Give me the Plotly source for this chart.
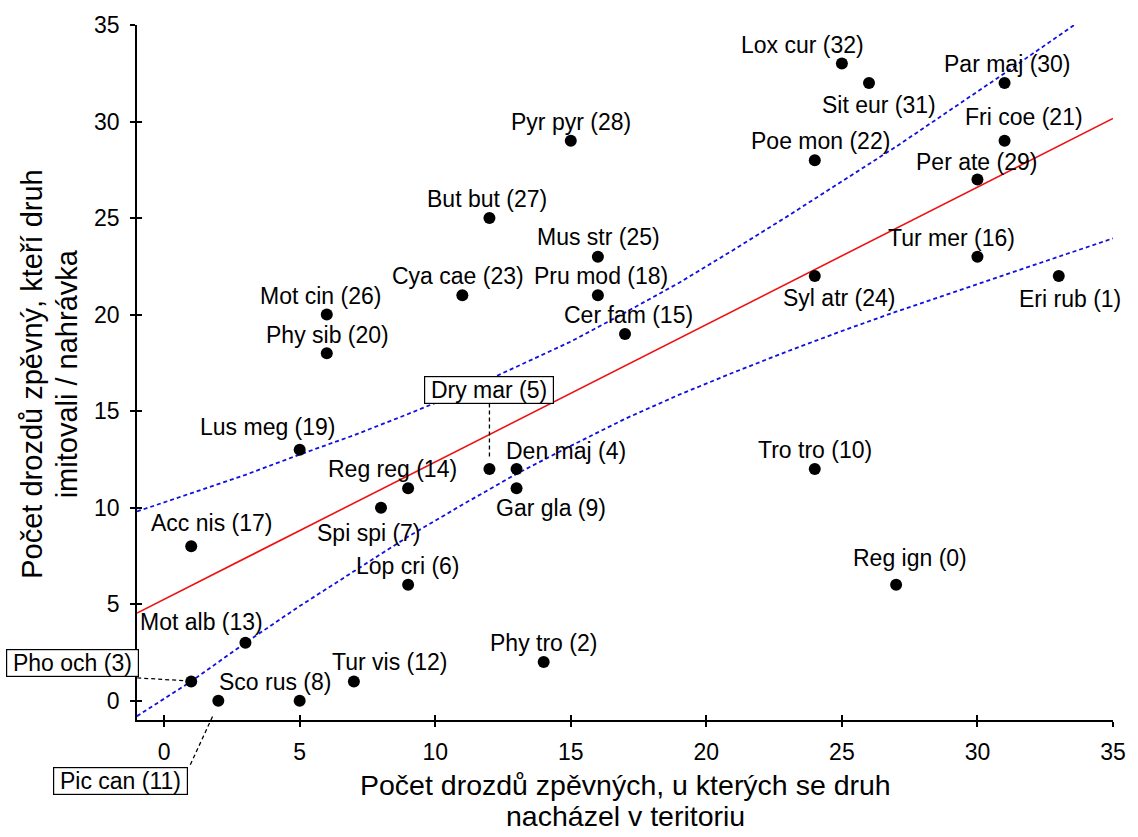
import plotly.graph_objects as go

# ---------------- data ----------------
labels = ["Reg ign (0)", "Eri rub (1)", "Phy tro (2)", "Pho och (3)", "Den maj (4)",
          "Dry mar (5)", "Lop cri (6)", "Spi spi (7)", "Sco rus (8)", "Gar gla (9)",
          "Tro tro (10)", "Pic can (11)", "Tur vis (12)", "Mot alb (13)", "Reg reg (14)",
          "Cer fam (15)", "Tur mer (16)", "Acc nis (17)", "Pru mod (18)", "Lus meg (19)",
          "Phy sib (20)", "Fri coe (21)", "Poe mon (22)", "Cya cae (23)", "Syl atr (24)",
          "Mus str (25)", "Mot cin (26)", "But but (27)", "Pyr pyr (28)", "Per ate (29)",
          "Par maj (30)", "Sit eur (31)", "Lox cur (32)"]
x_vals = [27, 33, 14, 1, 13, 12, 9, 8, 5, 13, 24, 2, 7, 3, 9, 17, 30, 1, 16, 5,
          6, 31, 24, 11, 24, 16, 6, 12, 15, 30, 31, 26, 25]
y_vals = [6, 22, 2, 1, 12, 12, 6, 10, 0, 11, 12, 0, 1, 3, 11, 19, 23, 8, 21, 13,
          18, 29, 28, 21, 22, 23, 20, 25, 29, 27, 32, 32, 33]

# regression line (end points)
reg_x = [-1, 35]
reg_y = [4.54, 30.16]

# dashed band curves
band_x = [-1, 1, 3, 5, 7, 9, 11, 13, 15, 17, 19, 21, 23, 25, 27, 29, 31, 33, 35]
band_upper = [9.8, 10.75, 11.7, 12.75, 13.75, 14.85, 16.0, 17.3, 18.6, 20.1, 21.65,
              23.35, 25.1, 26.9, 28.7, 30.6, 32.5, 34.45, 36.4]
band_lower = [-0.8, 1.0, 3.0, 4.9, 6.7, 8.5, 10.15, 11.75, 13.2, 14.6, 15.85, 17.0,
              18.1, 19.15, 20.15, 21.1, 22.05, 23.0, 23.95]

x_ticks = [0, 5, 10, 15, 20, 25, 30, 35]
y_ticks = [0, 5, 10, 15, 20, 25, 30, 35]

x_title = ["Počet drozdů zpěvných, u kterých se druh", "nacházel v teritoriu"]
y_title = ["Počet drozdů zpěvný, kteří druh", "imitovali / nahrávka"]

# ---------------- layout / style ----------------
X_RANGE = [-1, 35]
Y_RANGE = [-1, 35]
FONT = "Liberation Sans, Arial, sans-serif"
LBL_SIZE = 23
TITLE_SIZE = 28.5

# label offsets in pixels (dx right, dy down) relative to each point
label_offsets = {
    0: (14, -27), 1: (11, 23), 2: (0, -19), 3: (-119, -18), 4: (49.6, -18.5),
    5: (0, -79.3), 6: (0, -18.5), 7: (-12.5, 25.8), 8: (-24.3, -18.7), 9: (34, 19.8),
    10: (0, -18.8), 11: (-98, 80.6), 12: (35.5, -19), 13: (-43.5, -21), 14: (-15.3, -19.5),
    15: (3.3, -18.6), 16: (-26.4, -19), 17: (20.3, -22.8), 18: (3.3, -19), 19: (-31.3, -23),
    20: (0.5, -18.6), 21: (19.7, -23.7), 22: (6, -19.6), 23: (-4.2, -19), 24: (24.7, 22),
    25: (0.5, -19.3), 26: (-6.6, -18.6), 27: (-2.6, -19), 28: (0.5, -19), 29: (-1, -17.3),
    30: (3, -19.4), 31: (10.3, 22.3), 32: (-39.5, -18.8),
}
boxed = {3, 5, 11}

fig = go.Figure()

fig.add_trace(go.Scatter(x=band_x, y=band_upper, mode="lines",
                         line=dict(color="#1010e0", width=1.8, dash="4px,3px"),
                         hoverinfo="skip", showlegend=False))
fig.add_trace(go.Scatter(x=band_x, y=band_lower, mode="lines",
                         line=dict(color="#1010e0", width=1.8, dash="4px,3px"),
                         hoverinfo="skip", showlegend=False))
fig.add_trace(go.Scatter(x=reg_x, y=reg_y, mode="lines",
                         line=dict(color="#ee1111", width=1.6),
                         hoverinfo="skip", showlegend=False))
fig.add_trace(go.Scatter(x=x_vals, y=y_vals, mode="markers",
                         marker=dict(color="black", size=12),
                         text=labels, hoverinfo="text", showlegend=False))
# invisible trace for the overlay axes (inner tick halves)
fig.add_trace(go.Scatter(x=[None], y=[None], xaxis="x2", yaxis="y2",
                         showlegend=False, hoverinfo="skip"))

annotations = []
SP = "\u2005"
for i, lab in enumerate(labels):
    dx, dy = label_offsets[i]
    a = dict(x=x_vals[i], y=y_vals[i], xref="x", yref="y", text=lab,
             showarrow=False, xanchor="center", yanchor="middle",
             xshift=dx, yshift=-dy,
             font=dict(family=FONT, size=LBL_SIZE, color="black"))
    if i in boxed:
        a.update(text=SP + lab + SP, bordercolor="black", borderwidth=1.2,
                 borderpad=0, bgcolor="white")
    annotations.append(a)

# axis titles
annotations.append(dict(x=0.5, y=0, xref="paper", yref="paper", text=x_title[0],
                        showarrow=False, xanchor="center", yanchor="middle", yshift=-65,
                        font=dict(family=FONT, size=TITLE_SIZE, color="black")))
annotations.append(dict(x=0.5, y=0, xref="paper", yref="paper", text=x_title[1],
                        showarrow=False, xanchor="center", yanchor="middle", yshift=-96,
                        font=dict(family=FONT, size=TITLE_SIZE, color="black")))
annotations.append(dict(x=0, y=0.4978, xref="paper", yref="paper", text=y_title[0],
                        showarrow=False, xanchor="center", yanchor="middle", xshift=-105.3,
                        textangle=-90, font=dict(family=FONT, size=29, color="black")))
annotations.append(dict(x=0, y=0.4978, xref="paper", yref="paper", text=y_title[1],
                        showarrow=False, xanchor="center", yanchor="middle", xshift=-69.7,
                        textangle=-90, font=dict(family=FONT, size=29, color="black")))

# dashed leader lines for the boxed labels (pixel offsets from the point)
lead = dict(color="black", width=1.3, dash="4px,3px")
i = 5
shapes = [
    dict(type="line", xref="x", yref="y", xsizemode="pixel", ysizemode="pixel",
         xanchor=x_vals[i], yanchor=y_vals[i], x0=0, x1=0, y0=65.5, y1=10.5, line=lead),
]
i = 3
shapes.append(dict(type="line", xref="x", yref="y", xsizemode="pixel", ysizemode="pixel",
                   xanchor=x_vals[i], yanchor=y_vals[i], x0=-54, x1=-7, y0=3.5, y1=0.7,
                   line=lead))
i = 11
shapes.append(dict(type="line", xref="x", yref="paper", xsizemode="pixel", ysizemode="pixel",
                   xanchor=x_vals[i],
                   yanchor=(y_vals[i] - Y_RANGE[0]) / (Y_RANGE[1] - Y_RANGE[0]),
                   x0=-28, x1=-4.5, y0=-64, y1=-13, line=lead))

axis_common = dict(showgrid=False, zeroline=False, showline=True, linecolor="black",
                   linewidth=1.6, ticks="outside", ticklen=5, tickwidth=1.5,
                   tickcolor="black",
                   tickfont=dict(family=FONT, size=23, color="black"))

fig.update_layout(
    width=1138, height=837,
    margin=dict(l=137, r=21, t=25, b=117, pad=0),
    paper_bgcolor="white", plot_bgcolor="white",
    font=dict(family=FONT, color="black"),
    xaxis=dict(range=X_RANGE, tickvals=x_ticks, ticklabelstandoff=6, **axis_common),
    yaxis=dict(range=Y_RANGE, tickvals=y_ticks, ticklabelstandoff=6, **axis_common),
    xaxis2=dict(range=X_RANGE, overlaying="x", anchor="y2", tickvals=x_ticks,
                ticks="inside", ticklen=5, tickwidth=1.5, tickcolor="black",
                showticklabels=False, showline=False, showgrid=False, zeroline=False),
    yaxis2=dict(range=Y_RANGE, overlaying="y", anchor="x2", tickvals=y_ticks,
                ticks="inside", ticklen=5, tickwidth=1.5, tickcolor="black",
                showticklabels=False, showline=False, showgrid=False, zeroline=False),
    annotations=annotations,
    shapes=shapes,
    showlegend=False,
)

fig.write_html("out.html")
